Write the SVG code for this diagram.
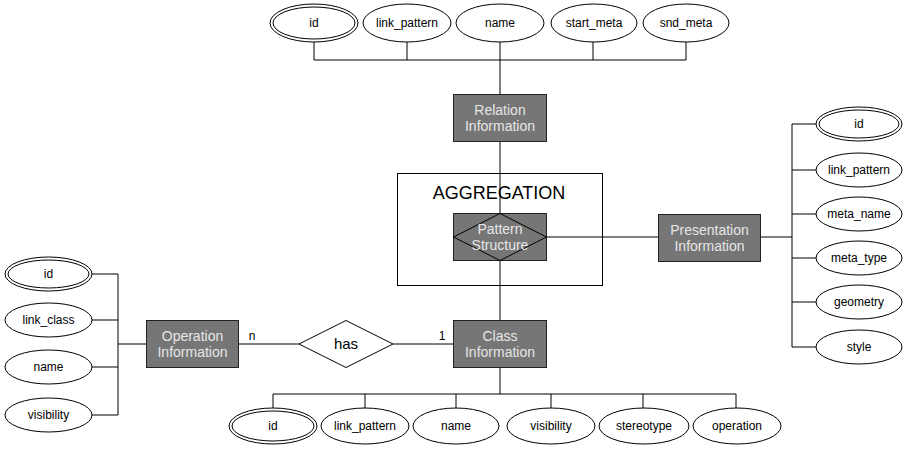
<svg xmlns="http://www.w3.org/2000/svg" width="907" height="450" viewBox="0 0 907 450">
  <style>
    .attr { fill: #fff; stroke: #000; stroke-width: 1; }
    .ent { fill: #767676; stroke: #222; stroke-width: 1; }
    .line { stroke: #000; stroke-width: 1; fill: none; }
    .at { font-family: "Liberation Sans", Arial, sans-serif; font-size: 12px; fill: #000; text-anchor: middle; }
    .et { font-family: "Liberation Sans", Arial, sans-serif; font-size: 14px; fill: #e6e6e6; text-anchor: middle; }
    .lbl { font-family: "Liberation Sans", Arial, sans-serif; font-size: 12px; fill: #000; text-anchor: middle; }
  </style>
  <rect width="907" height="450" fill="#fff"/>

  <!-- connectors -->
  <g id="connectors" class="line">
    <!-- relation attributes -->
    <path d="M314 42V60M407 42V60M500 42V60M593 42V60M686 42V60M314 60H686"/>
    <path d="M500 60V94M500 142V321"/>
    <!-- pattern to presentation -->
    <path d="M547 237H658M761 237H792M792 124V347"/>
    <path d="M792 124H816M792 170H816M792 214H816M792 258H816M792 302H816M792 347H816"/>
    <!-- operation -->
    <path d="M92 274H118M92 320H118M92 367H118M92 415H118M118 274V415M118 344H146"/>
    <path d="M238 344H299M393 344H453"/>
    <!-- class attributes -->
    <path d="M500 368V394M273 394H736M273 394V408M365 394V408M456 394V408M551 394V408M643 394V408M736 394V408"/>
  </g>

  <!-- aggregation frame -->
  <g id="aggregation">
    <rect x="397.5" y="173.5" width="205" height="112" fill="none" stroke="#000"/>
    <text x="499" y="199" font-family="Liberation Sans, Arial, sans-serif" font-size="18" text-anchor="middle">AGGREGATION</text>
  </g>

  <!-- entities -->
  <g id="relation-information">
    <rect class="ent" x="453.5" y="94.5" width="93" height="47"/>
    <text class="et" x="500" y="115">Relation</text>
    <text class="et" x="500" y="131">Information</text>
  </g>
  <g id="pattern-structure">
    <rect class="ent" x="453.5" y="213.5" width="93" height="47"/>
    <polygon points="500,213.5 546.5,237 500,260.5 453.5,237" fill="none" stroke="#000"/>
    <text class="et" x="500" y="234">Pattern</text>
    <text class="et" x="500" y="250">Structure</text>
  </g>
  <g id="presentation-information">
    <rect class="ent" x="658.5" y="214.5" width="102" height="47"/>
    <text class="et" x="709.5" y="235">Presentation</text>
    <text class="et" x="709.5" y="251">Information</text>
  </g>
  <g id="operation-information">
    <rect class="ent" x="146.5" y="320.5" width="92" height="47"/>
    <text class="et" x="192.5" y="341">Operation</text>
    <text class="et" x="192.5" y="357">Information</text>
  </g>
  <g id="class-information">
    <rect class="ent" x="453.5" y="320.5" width="93" height="47"/>
    <text class="et" x="500" y="341">Class</text>
    <text class="et" x="500" y="357">Information</text>
  </g>

  <!-- relationship -->
  <g id="has">
    <polygon points="346,320.5 393,344 346,367.5 299,344" class="attr"/>
    <text x="346" y="349" font-family="Liberation Sans, Arial, sans-serif" font-size="15" text-anchor="middle">has</text>
    <text class="lbl" x="252" y="340">n</text>
    <text class="lbl" x="442" y="340">1</text>
  </g>

  <!-- relation attributes -->
  <g id="rel-id">
    <ellipse class="attr" cx="314" cy="23" rx="44" ry="19"/>
    <ellipse class="attr" cx="314" cy="23" rx="41" ry="16"/>
    <text class="at" x="314" y="27">id</text>
  </g>
  <g id="rel-link_pattern">
    <ellipse class="attr" cx="407" cy="23" rx="44" ry="19"/>
    <text class="at" x="407" y="27">link_pattern</text>
  </g>
  <g id="rel-name">
    <ellipse class="attr" cx="500" cy="23" rx="44" ry="19"/>
    <text class="at" x="500" y="27">name</text>
  </g>
  <g id="rel-start_meta">
    <ellipse class="attr" cx="594" cy="23" rx="43" ry="19"/>
    <text class="at" x="594" y="27">start_meta</text>
  </g>
  <g id="rel-snd_meta">
    <ellipse class="attr" cx="686" cy="23" rx="43" ry="19"/>
    <text class="at" x="686" y="27">snd_meta</text>
  </g>

  <!-- presentation attributes -->
  <g id="pres-id">
    <ellipse class="attr" cx="859" cy="124" rx="43" ry="17"/>
    <ellipse class="attr" cx="859" cy="124" rx="40" ry="14"/>
    <text class="at" x="859" y="128">id</text>
  </g>
  <g id="pres-link_pattern">
    <ellipse class="attr" cx="859" cy="170" rx="43" ry="17"/>
    <text class="at" x="859" y="174">link_pattern</text>
  </g>
  <g id="pres-meta_name">
    <ellipse class="attr" cx="859" cy="214" rx="43" ry="17"/>
    <text class="at" x="859" y="218">meta_name</text>
  </g>
  <g id="pres-meta_type">
    <ellipse class="attr" cx="859" cy="258" rx="43" ry="17"/>
    <text class="at" x="859" y="262">meta_type</text>
  </g>
  <g id="pres-geometry">
    <ellipse class="attr" cx="859" cy="302" rx="43" ry="17"/>
    <text class="at" x="859" y="306">geometry</text>
  </g>
  <g id="pres-style">
    <ellipse class="attr" cx="859" cy="347" rx="43" ry="17"/>
    <text class="at" x="859" y="351">style</text>
  </g>

  <!-- operation attributes -->
  <g id="op-id">
    <ellipse class="attr" cx="48.5" cy="274" rx="43.5" ry="17"/>
    <ellipse class="attr" cx="48.5" cy="274" rx="40.5" ry="14"/>
    <text class="at" x="48.5" y="278">id</text>
  </g>
  <g id="op-link_class">
    <ellipse class="attr" cx="48.5" cy="320" rx="43.5" ry="17"/>
    <text class="at" x="48.5" y="324">link_class</text>
  </g>
  <g id="op-name">
    <ellipse class="attr" cx="48.5" cy="367" rx="43.5" ry="17"/>
    <text class="at" x="48.5" y="371">name</text>
  </g>
  <g id="op-visibility">
    <ellipse class="attr" cx="48.5" cy="415" rx="43.5" ry="17"/>
    <text class="at" x="48.5" y="419">visibility</text>
  </g>

  <!-- class attributes -->
  <g id="cls-id">
    <ellipse class="attr" cx="273" cy="426" rx="44" ry="18"/>
    <ellipse class="attr" cx="273" cy="426" rx="41" ry="15"/>
    <text class="at" x="273" y="430">id</text>
  </g>
  <g id="cls-link_pattern">
    <ellipse class="attr" cx="365" cy="426" rx="44" ry="18"/>
    <text class="at" x="365" y="430">link_pattern</text>
  </g>
  <g id="cls-name">
    <ellipse class="attr" cx="456" cy="426" rx="43" ry="18"/>
    <text class="at" x="456" y="430">name</text>
  </g>
  <g id="cls-visibility">
    <ellipse class="attr" cx="551" cy="426" rx="44" ry="18"/>
    <text class="at" x="551" y="430">visibility</text>
  </g>
  <g id="cls-stereotype">
    <ellipse class="attr" cx="644" cy="426" rx="45" ry="18"/>
    <text class="at" x="644" y="430">stereotype</text>
  </g>
  <g id="cls-operation">
    <ellipse class="attr" cx="737" cy="426" rx="44" ry="18"/>
    <text class="at" x="737" y="430">operation</text>
  </g>
</svg>
